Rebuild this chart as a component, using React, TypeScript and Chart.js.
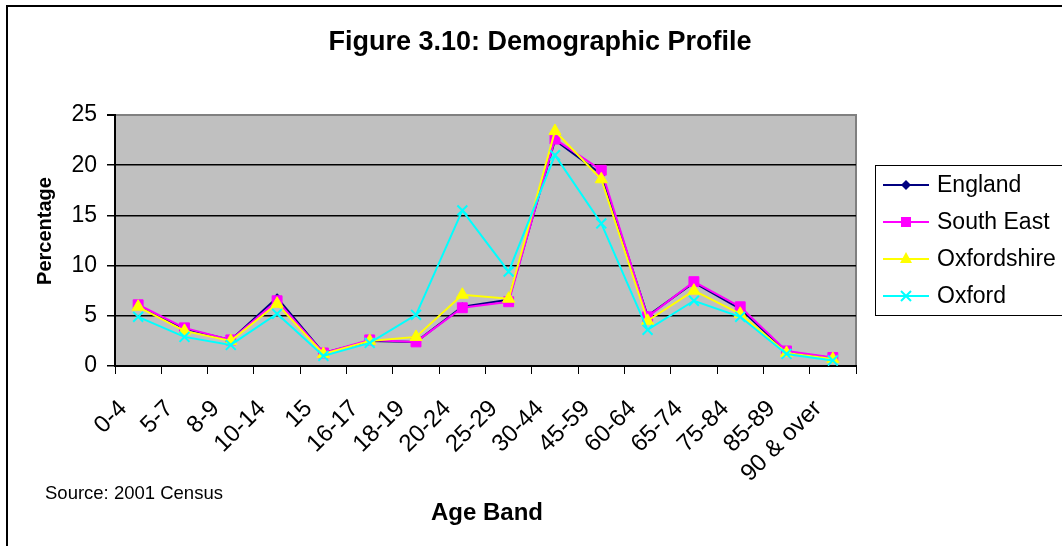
import React, { useEffect, useRef } from "react";
import { Chart, registerables } from "chart.js";

Chart.register(...registerables);

// Age bands along the x axis
const ageBands = [
  "0-4", "5-7", "8-9", "10-14", "15", "16-17", "18-19", "20-24",
  "25-29", "30-44", "45-59", "60-64", "65-74", "75-84", "85-89", "90 & over",
];

// Percentage of population in each age band
const england = [6.0, 3.7, 2.6, 6.8, 1.3, 2.5, 2.4, 5.9, 6.6, 22.5, 19.1, 5.0, 8.3, 5.7, 1.4, 0.8];
const southEast = [6.1, 3.8, 2.6, 6.5, 1.3, 2.6, 2.4, 5.8, 6.4, 22.6, 19.5, 4.9, 8.4, 5.9, 1.5, 0.85];
const oxfordshire = [5.9, 3.5, 2.5, 6.2, 1.2, 2.5, 2.9, 7.1, 6.7, 23.4, 18.6, 4.5, 7.5, 5.2, 1.3, 0.7];
const oxford = [4.9, 2.9, 2.1, 5.2, 1.0, 2.3, 5.1, 15.5, 9.4, 21.0, 14.2, 3.6, 6.5, 4.9, 1.2, 0.55];

const seriesNames = ["England", "South East", "Oxfordshire", "Oxford"];
const seriesColors = ["#000080", "#ff00ff", "#ffff00", "#00ffff"];

const yMin = 0;
const yMax = 25;
const yStep = 5;

const chartTitle = "Figure 3.10: Demographic Profile";
const yTitle = "Percentage";
const xTitle = "Age Band";
const sourceNote = "Source: 2001 Census";

const FONT = '"Liberation Sans", Arial, Helvetica, sans-serif';

function drawMarker(ctx: CanvasRenderingContext2D, kind: number, x: number, y: number, color: string) {
  ctx.save();
  ctx.fillStyle = color;
  ctx.strokeStyle = color;
  ctx.lineWidth = 1;
  ctx.beginPath();
  if (kind === 0) {
    ctx.moveTo(x, y - 5);
    ctx.lineTo(x + 5, y);
    ctx.lineTo(x, y + 5);
    ctx.lineTo(x - 5, y);
    ctx.closePath();
    ctx.fill();
  } else if (kind === 1) {
    ctx.rect(x - 5, y - 5, 10, 10);
    ctx.fill();
  } else if (kind === 2) {
    ctx.moveTo(x, y - 7);
    ctx.lineTo(x + 6, y + 4);
    ctx.lineTo(x - 6, y + 4);
    ctx.closePath();
    ctx.fill();
  } else {
    ctx.lineWidth = 2;
    ctx.moveTo(x - 5, y - 5);
    ctx.lineTo(x + 5, y + 5);
    ctx.moveTo(x + 5, y - 5);
    ctx.lineTo(x - 5, y + 5);
    ctx.stroke();
  }
  ctx.restore();
}

const decorations = {
  id: "decorations",
  beforeDraw(chart: any) {
    const { ctx, chartArea: a, width, height } = chart;
    ctx.save();
    ctx.fillStyle = "#ffffff";
    ctx.fillRect(0, 0, width, height);
    // outer frame
    ctx.strokeStyle = "#000";
    ctx.lineWidth = 2;
    ctx.beginPath();
    ctx.moveTo(7, height + 2);
    ctx.lineTo(7, 6);
    ctx.lineTo(width + 2, 6);
    ctx.stroke();
    // plot area
    ctx.fillStyle = "#c0c0c0";
    ctx.fillRect(a.left, a.top, a.right - a.left, a.bottom - a.top);
    ctx.strokeStyle = "#808080";
    ctx.lineWidth = 2;
    ctx.beginPath();
    ctx.moveTo(a.left, a.top);
    ctx.lineTo(a.right, a.top);
    ctx.lineTo(a.right, a.bottom);
    ctx.stroke();
    ctx.restore();
  },
  afterDraw(chart: any) {
    const { ctx } = chart;
    const xs = chart.scales.x;
    ctx.save();
    ctx.fillStyle = "#000";

    // title
    ctx.font = `bold 27px ${FONT}`;
    ctx.textAlign = "center";
    ctx.textBaseline = "middle";
    ctx.fillText(chartTitle, 540, 43);

    // y axis title
    ctx.save();
    ctx.translate(45, 231);
    ctx.rotate(-Math.PI / 2);
    ctx.font = `bold 20px ${FONT}`;
    ctx.fillText(yTitle, 0, 0);
    ctx.restore();

    // x axis title
    ctx.font = `bold 24px ${FONT}`;
    ctx.fillText(xTitle, 487, 513);

    // source note
    ctx.font = `18.5px ${FONT}`;
    ctx.textAlign = "left";
    ctx.fillText(sourceNote, 45, 494);

    // rotated category labels
    ctx.font = `24px ${FONT}`;
    ctx.textAlign = "right";
    ctx.textBaseline = "middle";
    ageBands.forEach((label, i) => {
      const px = xs.getPixelForValue(i);
      ctx.save();
      ctx.translate(px - 15, 405);
      ctx.rotate(-Math.PI / 4);
      ctx.fillText(label, 0, 0);
      ctx.restore();
    });

    // legend
    ctx.fillStyle = "#fff";
    ctx.fillRect(875, 165, 200, 150);
    ctx.strokeStyle = "#000";
    ctx.lineWidth = 1;
    ctx.strokeRect(875.5, 165.5, 200, 150);
    ctx.font = `23px ${FONT}`;
    ctx.textAlign = "left";
    ctx.textBaseline = "middle";
    const rows = [185, 222, 259, 296];
    seriesNames.forEach((name, i) => {
      const y = rows[i];
      ctx.strokeStyle = seriesColors[i];
      ctx.lineWidth = 2;
      ctx.beginPath();
      ctx.moveTo(883, y);
      ctx.lineTo(929, y);
      ctx.stroke();
      drawMarker(ctx, i, 906, y, seriesColors[i]);
      ctx.fillStyle = "#000";
      ctx.fillText(name, 937, y + 1);
    });
    ctx.restore();
  },
};

export default function App() {
  const canvasRef = useRef<HTMLCanvasElement | null>(null);

  useEffect(() => {
    const canvas = canvasRef.current;
    if (!canvas) return;
    const values = [england, southEast, oxfordshire, oxford];
    const pointStyles = ["rectRot", "rect", "triangle", "crossRot"];
    const radii = [4, 7, 7, 7];

    const chart = new Chart(canvas, {
      type: "line",
      data: {
        labels: ageBands,
        datasets: values.map((data, i) => ({
          label: seriesNames[i],
          data,
          borderColor: seriesColors[i],
          backgroundColor: seriesColors[i],
          borderWidth: 2,
          pointStyle: pointStyles[i] as any,
          pointRadius: radii[i],
          pointBorderWidth: i === 3 ? 2 : 1,
          pointBackgroundColor: seriesColors[i],
          pointBorderColor: seriesColors[i],
          tension: 0,
          order: 4 - i,
        })),
      },
      options: {
        responsive: false,
        animation: false,
        events: [],
        layout: { padding: { left: 0, top: 115, right: 206, bottom: 0 } },
        plugins: {
          legend: { display: false },
          title: { display: false },
          tooltip: { enabled: false },
        },
        scales: {
          x: {
            type: "category",
            offset: true,
            grid: {
              offset: true,
              drawOnChartArea: false,
              drawTicks: true,
              tickLength: 8,
              color: "#000",
              lineWidth: 1,
            },
            border: { display: true, color: "#000", width: 2 },
            ticks: { display: false },
            afterFit: (scale: any) => {
              scale.height = 180;
            },
          },
          y: {
            min: yMin,
            max: yMax,
            ticks: {
              stepSize: yStep,
              color: "#000",
              padding: 10,
              font: { family: FONT, size: 23 },
            },
            grid: {
              color: (c: any) => (c.tick && c.tick.value === yMax ? "#808080" : "#000"),
              tickColor: "#000",
              tickLength: 8,
              lineWidth: (c: any) => (c.tick && c.tick.value === yMax ? 2 : 1.5),
            },
            border: { display: true, color: "#000", width: 2 },
            afterFit: (scale: any) => {
              scale.width = 115;
            },
          },
        },
      },
      plugins: [decorations],
    });

    return () => chart.destroy();
  }, []);

  return (
    <div style={{ position: "absolute", left: 0, top: 0, width: 1062, height: 546 }}>
      <canvas ref={canvasRef} width={1062} height={546} />
    </div>
  );
}
